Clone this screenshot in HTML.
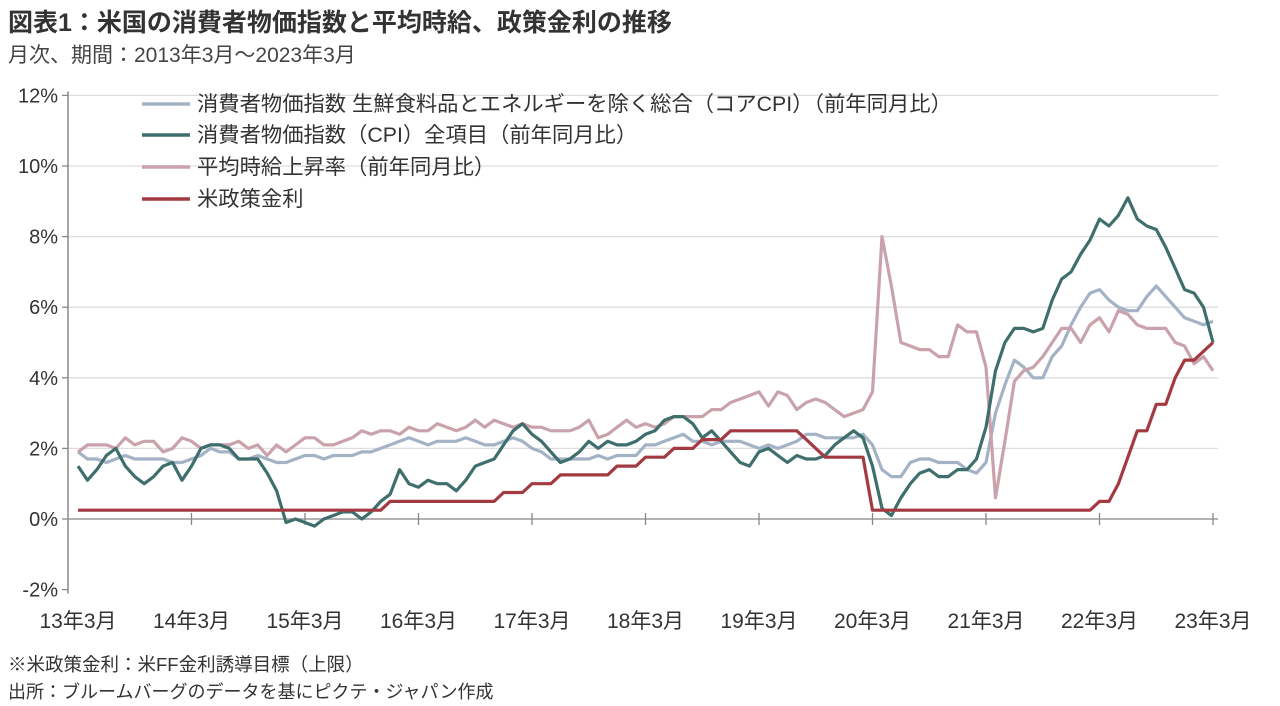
<!DOCTYPE html>
<html><head><meta charset="utf-8"><style>
body{margin:0;background:#fff;font-family:"Liberation Sans","Noto Sans CJK JP",sans-serif;color:#333}
#wrap{position:relative;width:1280px;height:706px;overflow:hidden}
.t{position:absolute;white-space:nowrap}
</style></head><body><div id="wrap">
<div class="t" style="left:8px;top:3px;font-size:25px;font-weight:bold;color:#333">図表1：米国の消費者物価指数と平均時給、政策金利の推移</div>
<div class="t" style="left:8px;top:39px;font-size:21px;color:#444">月次、期間：2013年3月～2023年3月</div>
<div class="t" style="left:8px;top:651px;font-size:18.5px;color:#333">※米政策金利：米FF金利誘導目標（上限）</div>
<div class="t" style="left:8px;top:678px;font-size:18px;color:#333">出所：ブルームバーグのデータを基にピクテ・ジャパン作成</div>
<svg id="svg" width="1280" height="706" style="position:absolute;left:0;top:0"></svg>
</div>
<script>
const yTicks=[-2,0,2,4,6,8,10,12];
const xLabels=["13年3月","14年3月","15年3月","16年3月","17年3月","18年3月","19年3月","20年3月","21年3月","22年3月","23年3月"];
const seriesNames=["消費者物価指数 生鮮食料品とエネルギーを除く総合（コアCPI）（前年同月比）","消費者物価指数（CPI）全項目（前年同月比）","平均時給上昇率（前年同月比）","米政策金利"];
const coreCPI=[1.9,1.7,1.7,1.6,1.7,1.8,1.7,1.7,1.7,1.7,
1.6,1.6,1.7,1.8,2.0,1.9,1.9,1.7,1.7,1.8,1.7,1.6,
1.6,1.7,1.8,1.8,1.7,1.8,1.8,1.8,1.9,1.9,2.0,2.1,
2.2,2.3,2.2,2.1,2.2,2.2,2.2,2.3,2.2,2.1,2.1,2.2,
2.3,2.2,2.0,1.9,1.7,1.7,1.7,1.7,1.7,1.8,1.7,1.8,
1.8,1.8,2.1,2.1,2.2,2.3,2.4,2.2,2.2,2.1,2.2,2.2,
2.2,2.1,2.0,2.1,2.0,2.1,2.2,2.4,2.4,2.3,2.3,2.3,
2.3,2.4,2.1,1.4,1.2,1.2,1.6,1.7,1.7,1.6,1.6,1.6,
1.4,1.3,1.6,3.0,3.8,4.5,4.3,4.0,4.0,4.6,4.9,5.5,
6.0,6.4,6.5,6.2,6.0,5.9,5.9,6.3,6.6,6.3,6.0,5.7,
5.6,5.5,5.6];
const headlineCPI=[1.5,1.1,1.4,1.8,2.0,1.5,1.2,1.0,1.2,1.5,
1.6,1.1,1.5,2.0,2.1,2.1,2.0,1.7,1.7,1.7,1.3,0.8,
-0.1,0.0,-0.1,-0.2,0.0,0.1,0.2,0.2,0.0,0.2,0.5,0.7,
1.4,1.0,0.9,1.1,1.0,1.0,0.8,1.1,1.5,1.6,1.7,2.1,
2.5,2.7,2.4,2.2,1.9,1.6,1.7,1.9,2.2,2.0,2.2,2.1,
2.1,2.2,2.4,2.5,2.8,2.9,2.9,2.7,2.3,2.5,2.2,1.9,
1.6,1.5,1.9,2.0,1.8,1.6,1.8,1.7,1.7,1.8,2.1,2.3,
2.5,2.3,1.5,0.3,0.1,0.6,1.0,1.3,1.4,1.2,1.2,1.4,
1.4,1.7,2.6,4.2,5.0,5.4,5.4,5.3,5.4,6.2,6.8,7.0,
7.5,7.9,8.5,8.3,8.6,9.1,8.5,8.3,8.2,7.7,7.1,6.5,
6.4,6.0,5.0];
const wages=[1.9,2.1,2.1,2.1,2.0,2.3,2.1,2.2,2.2,1.9,
2.0,2.3,2.2,2.0,2.1,2.1,2.1,2.2,2.0,2.1,1.8,2.1,
1.9,2.1,2.3,2.3,2.1,2.1,2.2,2.3,2.5,2.4,2.5,2.5,
2.4,2.6,2.5,2.5,2.7,2.6,2.5,2.6,2.8,2.6,2.8,2.7,
2.6,2.7,2.6,2.6,2.5,2.5,2.5,2.6,2.8,2.3,2.4,2.6,
2.8,2.6,2.7,2.6,2.7,2.9,2.9,2.9,2.9,3.1,3.1,3.3,
3.4,3.5,3.6,3.2,3.6,3.5,3.1,3.3,3.4,3.3,3.1,2.9,
3.0,3.1,3.6,8.0,6.6,5.0,4.9,4.8,4.8,4.6,4.6,5.5,
5.3,5.3,4.3,0.6,2.2,3.9,4.2,4.3,4.6,5.0,5.4,5.4,
5.0,5.5,5.7,5.3,5.9,5.8,5.5,5.4,5.4,5.4,5.0,4.9,
4.4,4.6,4.2];
const policyRate=[0.25,0.25,0.25,0.25,0.25,0.25,0.25,0.25,0.25,0.25,
0.25,0.25,0.25,0.25,0.25,0.25,0.25,0.25,0.25,0.25,0.25,0.25,
0.25,0.25,0.25,0.25,0.25,0.25,0.25,0.25,0.25,0.25,0.25,0.5,
0.5,0.5,0.5,0.5,0.5,0.5,0.5,0.5,0.5,0.5,0.5,0.75,
0.75,0.75,1.0,1.0,1.0,1.25,1.25,1.25,1.25,1.25,1.25,1.5,
1.5,1.5,1.75,1.75,1.75,2.0,2.0,2.0,2.25,2.25,2.25,2.5,
2.5,2.5,2.5,2.5,2.5,2.5,2.5,2.25,2.0,1.75,1.75,1.75,
1.75,1.75,0.25,0.25,0.25,0.25,0.25,0.25,0.25,0.25,0.25,0.25,
0.25,0.25,0.25,0.25,0.25,0.25,0.25,0.25,0.25,0.25,0.25,0.25,
0.25,0.25,0.5,0.5,1.0,1.75,2.5,2.5,3.25,3.25,4.0,4.5,
4.5,4.75,5.0];
const colors=["#a3b3c5","#3f6f6d","#c9a2ab","#a33a41"];
const NS="http://www.w3.org/2000/svg";
const svg=document.getElementById('svg');
const X0=78,X1=1213,Y0=519,PX=35.3;
const xs=i=>X0+(X1-X0)*i/120;
const ys=v=>Y0-v*PX;
function mk(t,a){const e=document.createElementNS(NS,t);for(const k in a)e.setAttribute(k,a[k]);svg.appendChild(e);return e;}
yTicks.forEach(v=>{
 if(v>0){const g=mk('line',{x1:68,x2:1218,y1:ys(v),y2:ys(v),stroke:'#ddd','stroke-width':1.3});
 
 }
 const tk=mk('line',{x1:62,x2:68,y1:ys(v),y2:ys(v),stroke:'#888','stroke-width':1.3});
 
 
 const t=mk('text',{x:58,y:ys(v)+7,'text-anchor':'end','font-size':20,fill:'#333','font-family':'Liberation Sans, sans-serif'});
 t.textContent=v+'%';
 
 
});
const ya=mk('line',{x1:68,x2:68,y1:ys(12)-4,y2:ys(-2)+4,stroke:'#888','stroke-width':1.5});


const xa=mk('line',{x1:68,x2:1218,y1:Y0,y2:Y0,stroke:'#999','stroke-width':1.5});


xLabels.forEach((l,k)=>{
 const x=xs(k*12);
 if(k>0){const tk=mk('line',{x1:x,x2:x,y1:Y0-6,y2:Y0+6,stroke:'#888','stroke-width':1.3});
 
 }
 const t=mk('text',{x:x,y:628,'text-anchor':'middle','font-size':21,fill:'#333','font-family':'Liberation Sans, Noto Sans CJK JP, sans-serif'});
 t.textContent=l;
 
 
});
const all=[coreCPI,headlineCPI,wages,policyRate];
const order=[0,2,1,3];
const lnames=['core-cpi-line','headline-cpi-line','wage-growth-line','policy-rate-line'];
order.forEach(s=>{
 const d=all[s].map((v,i)=>(i?'L':'M')+xs(i).toFixed(1)+','+ys(v).toFixed(1)).join('');
 const p=mk('path',{d:d,fill:'none',stroke:colors[s],'stroke-width':3.2,'stroke-linejoin':'round'});
 
 
});
const ly=[104,135,167,199];
seriesNames.forEach((n,i)=>{
 const l=mk('line',{x1:142,x2:190,y1:ly[i],y2:ly[i],stroke:colors[i],'stroke-width':3.5});
 
 
 const t=mk('text',{x:197,y:ly[i]+7,'font-size':21.3,fill:'#333','font-family':'Liberation Sans, Noto Sans CJK JP, sans-serif'});
 t.textContent=n;
 
 
});
</script></body></html>
